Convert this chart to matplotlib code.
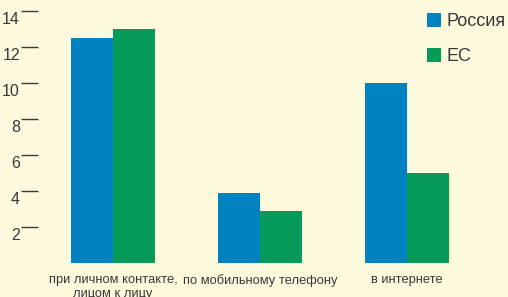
import numpy as np
import matplotlib.pyplot as plt
import matplotlib.transforms as mtransforms

plt.rcParams['font.family'] = ['Liberation Sans', 'DejaVu Sans']

categories = ['при личном контакте,\nлицом к лицу', 'по мобильному телефону', 'в интернете']
russia = [12.5, 3.9, 10.0]
eu = [13.0, 2.9, 5.0]
series_names = ['Россия', 'ЕС']
yticks = [2, 4, 6, 8, 10, 12, 14]

bg = '#fdf9dc'
blue = '#0082c0'
green = '#079b59'
txt = '#3a3a3a'

fig = plt.figure(figsize=(5.08, 2.97), dpi=100, facecolor=bg)
ax = fig.add_axes([38/508, 34/297, 470/508, 263/297], facecolor=bg)

x = np.arange(len(categories))
w = 0.286
ax.bar(x - w/2, russia, w, color=blue, label=series_names[0])
ax.bar(x + w/2, eu, w, color=green, label=series_names[1])

ax.set_xlim((38-113)/147, (508-113)/147)
ax.set_ylim(0, 263/18)

for s in ax.spines.values():
    s.set_visible(False)

ax.set_yticks(yticks)
ax.set_yticklabels([str(t) for t in yticks])
ax.tick_params(axis='y', direction='out', length=12, width=1, color=txt,
               labelcolor=txt, labelsize=11.5, pad=1)
off = mtransforms.ScaledTranslation(0, -7/100, fig.dpi_scale_trans)
for lab in ax.get_yticklabels():
    lab.set_transform(lab.get_transform() + off)

ax.set_xticks(x)
ax.set_xticklabels(categories)
ax.tick_params(axis='x', length=0, labelcolor=txt, labelsize=9.3, pad=8)

ax.legend(loc='upper left', bbox_to_anchor=(427/508, 1 - 13/297),
          bbox_transform=fig.transFigure, frameon=False, fontsize=13,
          handlelength=0.8, handleheight=0.8, handletextpad=0.3,
          labelspacing=1.0, borderaxespad=0, borderpad=0, labelcolor=txt)

fig.savefig('out.png', dpi=100, facecolor=bg)
